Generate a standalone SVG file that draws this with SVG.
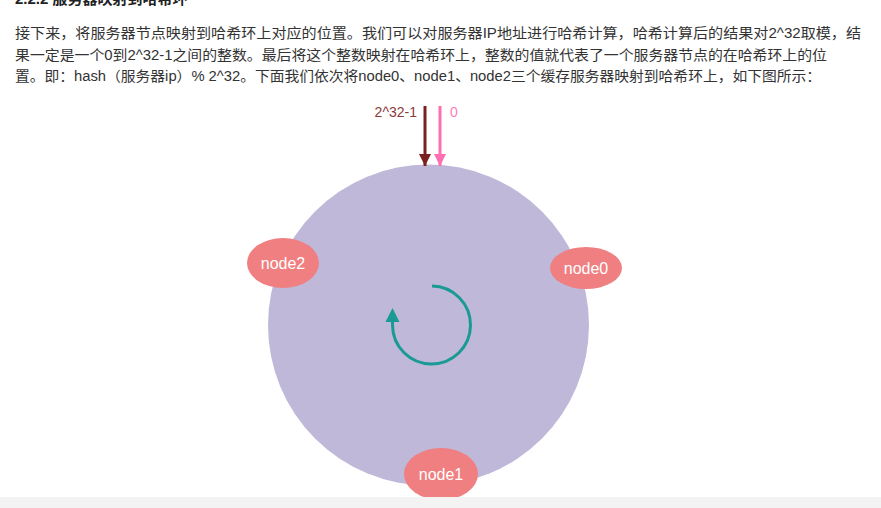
<svg xmlns="http://www.w3.org/2000/svg" width="881" height="508" viewBox="0 0 881 508">
<defs>
<style>
.p{font-family:"Liberation Sans","Noto Sans CJK SC",sans-serif;font-size:14px;fill:#333}
.h{font-family:"Liberation Sans","Noto Sans CJK SC",sans-serif;font-size:15px;font-weight:bold;fill:#222}
.node ellipse{fill:#ef7f80}
.node text{font-family:"Liberation Sans",Arial,sans-serif;font-size:16px;fill:#fff;text-anchor:middle}
.lbl{font-family:"Liberation Sans",Arial,sans-serif;font-size:14px}
</style>
<marker id="ah1" viewBox="0 0 10 10" refX="10" refY="5" markerWidth="4" markerHeight="4" orient="auto" markerUnits="strokeWidth"><path d="M0,0 L10,5 L0,10 z" fill="#7a2020"/></marker>
<marker id="ah2" viewBox="0 0 10 10" refX="10" refY="5" markerWidth="4" markerHeight="4" orient="auto" markerUnits="strokeWidth"><path d="M0,0 L10,5 L0,10 z" fill="#ff6eb0"/></marker>
</defs>
<rect width="881" height="508" fill="#fff"/>
<text class="h" x="15" y="4">2.2.2 服务器映射到哈希环</text>
<text class="p" x="15" y="38" textLength="846" lengthAdjust="spacingAndGlyphs">接下来，将服务器节点映射到哈希环上对应的位置。我们可以对服务器IP地址进行哈希计算，哈希计算后的结果对2^32取模，结</text>
<text class="p" x="15" y="60" textLength="812" lengthAdjust="spacingAndGlyphs">果一定是一个0到2^32-1之间的整数。最后将这个整数映射在哈希环上，整数的值就代表了一个服务器节点的在哈希环上的位</text>
<text class="p" x="15" y="81" textLength="806" lengthAdjust="spacingAndGlyphs">置。即：hash（服务器ip）% 2^32。下面我们依次将node0、node1、node2三个缓存服务器映射到哈希环上，如下图所示：</text>
<g id="ring"><circle cx="428.5" cy="325" r="160.5" fill="#bfb8d8"/></g>
<g id="connectors">
<line x1="425" y1="106" x2="425" y2="166" stroke="#7a2020" stroke-width="3" marker-end="url(#ah1)"/>
<line x1="440" y1="106" x2="440" y2="166" stroke="#ff6eb0" stroke-width="3" marker-end="url(#ah2)"/>
<path d="M432,286 A39,39 0 1 1 392.5,325 L392.5,320" fill="none" stroke="#1a9a94" stroke-width="3"/>
<path d="M385.5,322 L392.5,308 L399.5,322 z" fill="#1a9a94"/>
</g>
<text class="lbl" x="417" y="117" text-anchor="end" fill="#8b3a3a">2^32-1</text>
<text class="lbl" x="450" y="117" fill="#ff80b8">0</text>
<g id="node2" class="node"><ellipse cx="283" cy="263" rx="36" ry="25"/><text x="283" y="269">node2</text></g>
<g id="node0" class="node"><ellipse cx="586" cy="268" rx="36" ry="21"/><text x="586" y="274">node0</text></g>
<g id="node1" class="node"><ellipse cx="441" cy="474" rx="37" ry="26"/><text x="441" y="480">node1</text></g>
<rect x="0" y="497" width="881" height="11" fill="#f3f3f3"/>
</svg>
